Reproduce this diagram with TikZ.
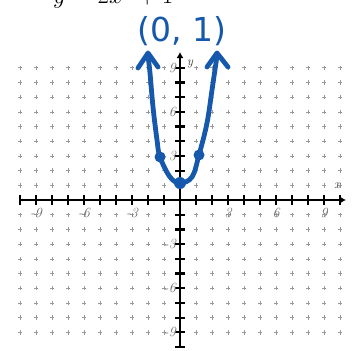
\documentclass[tikz,border=0pt]{standalone}
\usepackage{fontspec}
\newfontfamily\handfont{DejaVu Sans}
\usetikzlibrary{arrows.meta}
\definecolor{ink}{RGB}{22,88,172}
\definecolor{lbl}{gray}{0.42}
\definecolor{gridpt}{gray}{0.6}
\tikzset{
  gp/.style={draw=gridpt, line width=0.6pt},
  axisline/.style={draw=black, line width=2pt},
  tickmark/.style={draw=black, line width=2.2pt},
  lab/.style={text=lbl, font=\fontsize{14}{16}\selectfont\itshape, inner sep=0pt},
  axname/.style={text=black!75, font=\fontsize{13}{15}\selectfont\itshape, inner sep=0pt},
  curve/.style={draw=ink, line width=4.8pt, line cap=round, line join=round},
}
\begin{document}
\begin{tikzpicture}[x=1pt,y=-1pt]
\useasboundingbox (0,0) rectangle (354,351);
\clip (0,0) rectangle (354,351);
\def\ox{180}\def\oy{200}\def\ux{16}\def\uy{14.7}
% dot grid
\foreach \i in {-10,...,10}{
  \foreach \j in {-9,...,9}{
    \ifnum\i=0\relax\else\ifnum\j=0\relax\else
      \draw[gp] ({\ox+\i*\ux-2.2},{\oy-\j*\uy}) -- ++(4.4,0)
                ({\ox+\i*\ux},{\oy-\j*\uy-2.2}) -- ++(0,4.4);
    \fi\fi
  }
}
% axes
\draw[axisline,-{Latex[length=6pt,width=7pt]}] (20,\oy) -- (346,\oy);
\draw[axisline,-{Latex[length=6pt,width=7pt]}] (\ox,348) -- (\ox,52);
\foreach \i in {-10,...,10}{\ifnum\i=0\relax\else
  \draw[tickmark] ({\ox+\i*\ux},{\oy-5}) -- ++(0,10);\fi}
\foreach \j in {-10,...,9}{\ifnum\j=0\relax\else
  \draw[tickmark] ({\ox-5},{\oy-\j*\uy}) -- ++(10,0);\fi}
% labels
\foreach \v in {-9,-6,-3,3,6,9}{
  \node[lab] (xl\v) at ({\ox+\v*\ux},213) {\v};
  \node[lab,anchor=east] (yl\v) at (176,{\oy-\v*\uy}) {\v};
}
\node[axname] (xname) at (337,186) {x};
\node[axname] (yname) at (190,64) {y};
% equation (partly cut off at top, as in the reference)
\node[anchor=base west, inner sep=0pt, font=\fontsize{32}{36}\selectfont] (eq) at (53,3.5) {$y = 2x^2 + 1$};
% handwritten label
\node[text=ink, inner sep=0pt, font=\handfont\fontsize{33}{36}\selectfont] (pt) at (182,31) {(0,\,\,1)};
% parabola
\draw[curve] plot[smooth, tension=0.6] coordinates {(148,56) (150,73) (153,107) (157,140) (160,157) (170,177) (180,183) (192,177) (199,155) (207,123) (212,90) (217,56)};
\draw[curve] (138,68) -- (148,53) -- (158,67);
\draw[curve] (207,67) -- (217,53) -- (228,67);
\fill[ink] (160,157) circle (5.5);
\fill[ink] (199,155) circle (5.5);
\fill[ink] (180,183) circle (6);
\end{tikzpicture}
\end{document}
